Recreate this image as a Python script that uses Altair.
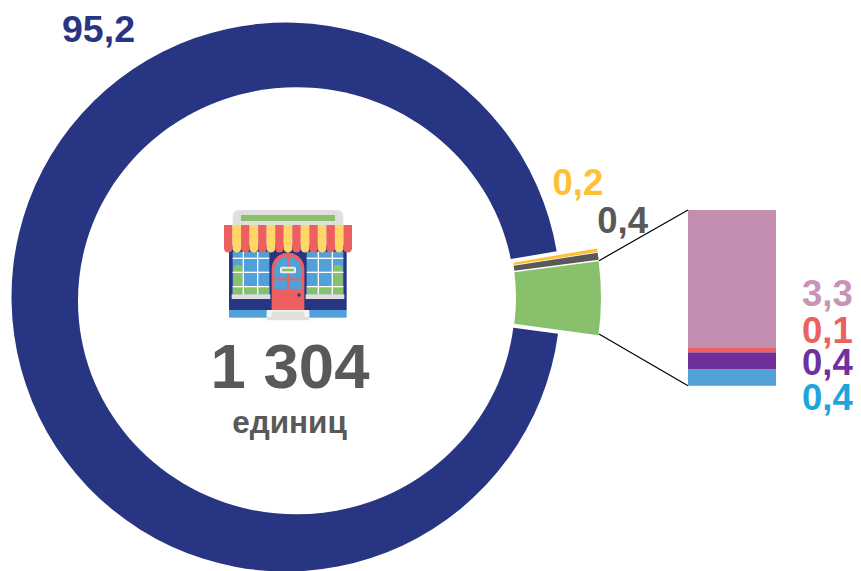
import base64
import altair as alt
import pandas as pd

# ---- values ----
ring_names = ["Основной", "Жёлтый", "Серый", "Прочие"]
ring_shares = [95.2, 0.2, 0.4, 4.2]
ring_colors = ["#283583", "#FFC033", "#595959", "#88C06C"]
ring_labels = ["95,2", "0,2", "0,4"]
ring_label_colors = ["#283583", "#FFC033", "#595959"]

stack_names = ["Голубой", "Фиолетовый", "Красный", "Розовый"]
stack_shares = [0.4, 0.4, 0.1, 3.3]
stack_colors = ["#52A0D8", "#70309C", "#EE6060", "#C48EB0"]
stack_labels = ["0,4", "0,4", "0,1", "3,3"]
stack_label_colors = ["#1FA5DC", "#7030A0", "#EE6060", "#C893B5"]

total_text = "1 304"
unit_text = "единиц"

# ---- page geometry (screen pixels; the chart origin sits at 8,8) ----
OX, OY = 8, 8
W, H = 845, 563
FONT = "Liberation Sans"


def px(v):
    return alt.value(v - OX)


def py(v):
    return alt.value(v - OY)


def cumulative(values):
    out, total = [], 0.0
    for v in values:
        out.append((total, total + v))
        total += v
    return out


ring_rows = [
    {"name": n, "start": s, "end": e, "color": c}
    for n, (s, e), c in zip(ring_names, cumulative(ring_shares), ring_colors)
]
stack_rows = [
    {"name": n, "start": s, "end": e, "color": c}
    for n, (s, e), c in zip(stack_names, cumulative(stack_shares), stack_colors)
]

ROT = 97.7 * 3.14159265 / 180
theta_scale = alt.Scale(domain=[0, 100], range=[ROT, ROT + 2 * 3.14159265])


def arc_layer(rows, cx, cy, outer, inner):
    return (
        alt.Chart(pd.DataFrame(rows))
        .mark_arc(radius=outer, radius2=inner)
        .encode(
            x=px(cx),
            y=py(cy),
            theta=alt.Theta("start:Q", scale=theta_scale, stack=None),
            theta2=alt.Theta2("end:Q"),
            color=alt.Color("color:N", scale=None, legend=None),
        )
    )


navy = arc_layer(ring_rows[:1], 286, 297, 274.5, 0)

# the hole of the ring is very slightly wider than tall in the reference
K = 0.5523
RX = 218.5 / 213.5
hole_path = (
    f"M{-RX} 0C{-RX} {-K} {-RX*K} -1 0 -1C{RX*K} -1 {RX} {-K} {RX} 0"
    f"C{RX} {K} {RX*K} 1 0 1C{-RX*K} 1 {-RX} {K} {-RX} 0Z"
)
hole = (
    alt.Chart(pd.DataFrame({"a": [0]}))
    .mark_point(shape=hole_path, size=427**2, filled=True, fill="white", opacity=1, strokeWidth=0)
    .encode(x=px(296.5), y=py(300.8))
)

# exploded slices: each sits a little apart so that a thin white gap shows
piece_yellow = arc_layer(ring_rows[1:2], 320, 295.3, 281, 196)
piece_gray = arc_layer(ring_rows[2:3], 320, 296, 281, 196)
piece_green = arc_layer(ring_rows[3:4], 320, 297.5, 281, 196)

y_scale = alt.Scale(domain=[0, sum(stack_shares)], range=[385.7 - OY, 210 - OY])
stack = (
    alt.Chart(pd.DataFrame(stack_rows))
    .mark_bar()
    .encode(
        x=px(688),
        x2=px(776),
        y=alt.Y("start:Q", scale=y_scale, axis=None),
        y2=alt.Y2("end:Q"),
        color=alt.Color("color:N", scale=None, legend=None),
    )
)


def rule(x1, y1, x2, y2):
    return (
        alt.Chart(pd.DataFrame({"a": [0]}))
        .mark_rule(color="black", strokeWidth=1.2)
        .encode(x=px(x1), y=py(y1), x2=px(x2), y2=py(y2))
    )


def label(text, x, y, color, size, align="left"):
    return (
        alt.Chart(pd.DataFrame({"t": [text]}))
        .mark_text(
            font=FONT, fontWeight="bold", fontSize=size, color=color,
            align=align, baseline="alphabetic",
        )
        .encode(x=px(x), y=py(y), text="t:N")
    )


ring_label_pos = [(62, 41.7), (552.5, 195), (597.3, 233)]
ring_label_sizes = [37.5, 36.5, 36.5]
stack_label_pos = [(802, 410), (802, 375), (802, 342.7), (802, 305.7)]
labels = [
    label(t, x, y, c, s)
    for t, (x, y), c, s in zip(ring_labels, ring_label_pos, ring_label_colors, ring_label_sizes)
] + [
    label(t, x, y, c, 36.5)
    for t, (x, y), c in zip(stack_labels, stack_label_pos, stack_label_colors)
]

# ---- storefront pictogram, an embedded vector image ----
NV, BL, RD, YL, GR, LG = "#283583", "#52A0D8", "#EE6060", "#FFD766", "#88C06C", "#E0DFDD"


def r(x0, y0, x1, y1, fill, rx=0):
    return f'<rect x="{x0}" y="{y0}" width="{x1-x0}" height="{y1-y0}" rx="{rx}" fill="{fill}"/>'


parts = [
    r(68, 45, 400, 130, LG, 18),
    r(93, 60, 375, 78, GR),
    r(57, 150, 410, 345, NV),
    r(57, 345, 410, 368, BL),
    r(170, 345, 298, 368, "#F4F4F2"),
]
for wx0, wx1, vs in [(68, 178, (100, 143)), (290, 400, (325, 367))]:
    parts.append(r(wx0, 170, wx1, 300, BL))
    parts.append(r(wx0, 277, wx1, 298, GR))
    side = wx0 + 2 if wx0 < 100 else wx1 - 30
    parts.append(r(side, 210, side + 28, 278, GR, 10))
    for v in vs:
        parts.append(r(v - 2, 170, v + 2, 300, "white"))
    for h in (190, 232, 275):
        parts.append(r(wx0, h - 2, wx1, h + 2, "white"))
    parts.append(r(wx0 - 3, 298, wx1 + 3, 312, LG))
parts += [
    f'<path d="M185 345V222a49 49 0 0 1 98 0V345Z" fill="{RD}"/>',
    f'<path d="M193 282V226a41 41 0 0 1 82 0V282Z" fill="{BL}"/>',
    r(231, 180, 237, 282, RD),
    r(193, 250, 275, 256, RD),
    r(210, 215, 258, 235, "#F0EEE8", 5),
    r(216, 221, 252, 229, GR),
    f'<circle cx="267" cy="300" r="5" fill="{NV}"/>',
    r(185, 350, 283, 366, LG),
    r(170, 366, 298, 376, LG, 4),
]
stripe = 384 / 15
for i in range(15):
    x0 = 42 + i * stripe
    parts.append(
        f'<path d="M{x0:.1f} 90h{stripe:.1f}v70a{stripe/2:.1f} {stripe/2:.1f} 0 0 1 {-stripe:.1f} 0Z" '
        f'fill="{RD if i % 2 == 0 else YL}"/>'
    )
svg = (
    '<svg xmlns="http://www.w3.org/2000/svg" width="160" height="135" viewBox="0 0 480 405">'
    + "".join(parts)
    + "</svg>"
)
icon_url = "data:image/svg+xml;base64," + base64.b64encode(svg.encode()).decode()
icon = (
    alt.Chart(pd.DataFrame({"u": [icon_url]}))
    .mark_image(width=160, height=135, align="left", baseline="top")
    .encode(x=px(210), y=py(195), url="u:N")
)

chart = alt.layer(
    navy,
    hole,
    piece_yellow,
    piece_gray,
    piece_green,
    stack,
    rule(599, 260.7, 688, 210),
    rule(599, 334, 688, 385.7),
    icon,
    label(total_text, 290, 388, "#595959", 63.5, "center"),
    label(unit_text, 289.5, 433, "#595959", 31.5, "center"),
    *labels,
).properties(
    width=W,
    height=H,
    padding=0,
    autosize=alt.AutoSizeParams(type="none"),
    background="white",
).configure_view(stroke=None)

chart.save("out.html", embed_options={"renderer": "svg", "actions": False})
